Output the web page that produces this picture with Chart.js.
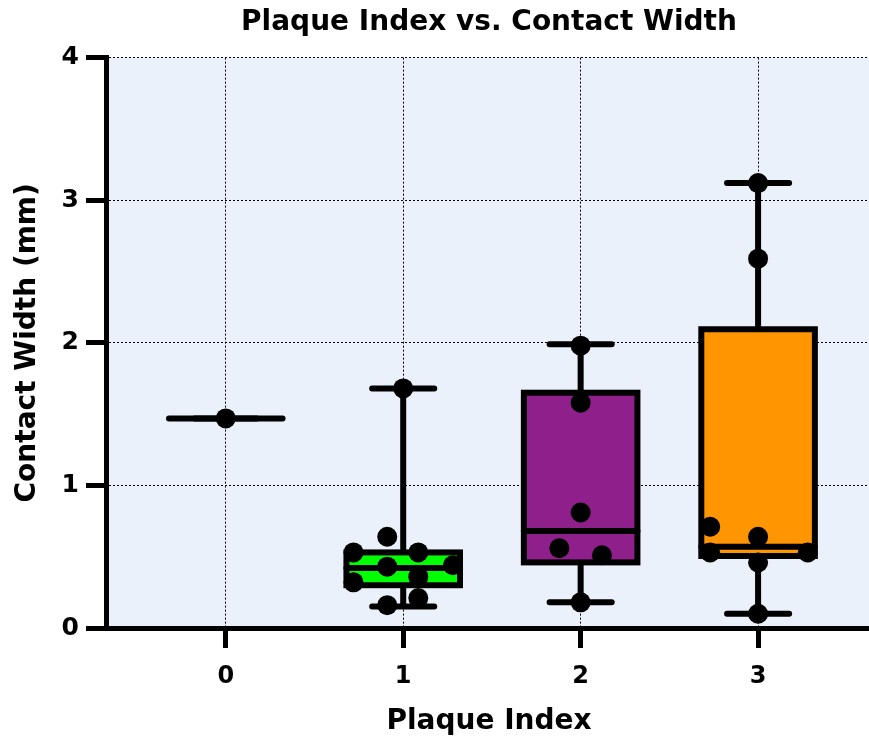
<!DOCTYPE html>
<html>
<head>
<meta charset="utf-8">
<title>Plaque Index vs. Contact Width</title>
<script src="https://cdn.jsdelivr.net/npm/chart.js@4.4.1/dist/chart.umd.min.js"></script>
<style>
  html, body { margin: 0; padding: 0; background: #fff; overflow: hidden; }
  #wrap { width: 882px; height: 746px; }
</style>
</head>
<body>
<div id="wrap"><canvas id="plaqueChart" width="882" height="746"></canvas></div>
<script>
// Plaque index groups on the x axis
const plaqueLevels = [0, 1, 2, 3];
const yTicks = [0, 1, 2, 3, 4];

// box statistics per group (mm)
const boxMin    = [1.47, 0.15, 0.18, 0.10];
const boxQ1     = [1.47, 0.30, 0.46, 0.505];
const boxMedian = [1.47, 0.42, 0.68, 0.57];
const boxQ3     = [1.47, 0.53, 1.65, 2.095];
const boxMax    = [1.47, 1.68, 1.99, 3.12];
const boxColors = ['#000000', '#00FF00', '#8F1F8B', '#FF9500'];

// individual measurements (x = plaque index with jitter, y = width in mm)
const g0X = [0];
const g0Y = [1.47];
const g1X = [1, 0.91, 0.72, 1.085, 0.91, 1.28, 1.085, 0.72, 0.91, 1.085];
const g1Y = [1.68, 0.64, 0.53, 0.53, 0.43, 0.44, 0.36, 0.32, 0.16, 0.21];
const g2X = [2, 2, 2, 1.88, 2.12, 2];
const g2Y = [1.98, 1.58, 0.81, 0.56, 0.51, 0.18];
const g3X = [3, 3, 2.73, 3, 2.73, 3.28, 3, 3];
const g3Y = [3.12, 2.59, 0.71, 0.64, 0.53, 0.53, 0.46, 0.10];

const FONT = "'DejaVu Sans', 'Liberation Sans', Arial, sans-serif";
Chart.defaults.font.family = FONT;
Chart.defaults.color = '#000';

const toPoints = (xs, ys) => xs.map((x, i) => ({ x: x, y: ys[i] }));

// plot background
const plotBg = {
  id: 'plotBg',
  beforeDraw(chart) {
    const { ctx, chartArea: a } = chart;
    ctx.save();
    ctx.fillStyle = '#EAF1FA';
    ctx.fillRect(a.left, a.top, a.right - a.left, a.bottom - a.top);
    ctx.restore();
  }
};

// box + whiskers, drawn under the points
const boxPlot = {
  id: 'boxPlot',
  beforeDatasetsDraw(chart) {
    const { ctx, scales: { x, y } } = chart;
    const boxHalf = 0.32, capHalf = 0.175;
    ctx.save();
    ctx.strokeStyle = '#000';
    ctx.lineWidth = 6;
    plaqueLevels.forEach((lvl, i) => {
      const cx = x.getPixelForValue(lvl);
      const bl = x.getPixelForValue(lvl - boxHalf);
      const br = x.getPixelForValue(lvl + boxHalf);
      const cl = x.getPixelForValue(lvl - capHalf);
      const cr = x.getPixelForValue(lvl + capHalf);
      const yMin = y.getPixelForValue(boxMin[i]);
      const yMax = y.getPixelForValue(boxMax[i]);
      const yQ1 = y.getPixelForValue(boxQ1[i]);
      const yQ3 = y.getPixelForValue(boxQ3[i]);
      const yMed = y.getPixelForValue(boxMedian[i]);

      // whisker + caps
      ctx.lineCap = 'round';
      ctx.beginPath();
      ctx.moveTo(cx, yMin); ctx.lineTo(cx, yMax);
      ctx.moveTo(cl, yMin); ctx.lineTo(cr, yMin);
      ctx.moveTo(cl, yMax); ctx.lineTo(cr, yMax);
      ctx.stroke();

      // box
      ctx.lineCap = 'butt';
      ctx.lineJoin = 'miter';
      if (yQ1 - yQ3 > 0.5) {
        ctx.fillStyle = boxColors[i];
        ctx.fillRect(bl, yQ3, br - bl, yQ1 - yQ3);
        ctx.strokeRect(bl, yQ3, br - bl, yQ1 - yQ3);
      }
      // median
      ctx.lineCap = 'round';
      ctx.beginPath();
      ctx.moveTo(bl, yMed); ctx.lineTo(br, yMed);
      ctx.stroke();
    });
    ctx.restore();
  }
};

const pointStyle = {
  type: 'scatter',
  showLine: false,
  pointRadius: 10,
  pointHoverRadius: 10,
  pointBackgroundColor: '#000',
  pointBorderWidth: 0
};

new Chart(document.getElementById('plaqueChart'), {
  type: 'scatter',
  data: {
    datasets: [
      Object.assign({ label: '0', data: toPoints(g0X, g0Y) }, pointStyle),
      Object.assign({ label: '1', data: toPoints(g1X, g1Y) }, pointStyle),
      Object.assign({ label: '2', data: toPoints(g2X, g2Y) }, pointStyle),
      Object.assign({ label: '3', data: toPoints(g3X, g3Y) }, pointStyle)
    ]
  },
  options: {
    responsive: false,
    animation: false,
    layout: { padding: { left: 0, right: 2, top: 0, bottom: 0 } },
    plugins: {
      legend: { display: false },
      tooltip: { enabled: false },
      title: {
        display: true,
        text: 'Plaque Index vs. Contact Width',
        fullSize: false,
        color: '#000',
        font: { size: 28, weight: 'bold' },
        padding: { top: 6, bottom: 18 }
      }
    },
    scales: {
      x: {
        type: 'linear',
        min: -0.675,
        max: 3.642,
        afterBuildTicks: axis => { axis.ticks = plaqueLevels.map(v => ({ value: v })); },
        afterFit: s => { s.height = 118; },
        ticks: {
          color: '#000',
          font: { size: 24, weight: 'bold' },
          padding: 14
        },
        grid: {
          color: '#000',
          lineWidth: 1,
          tickLength: 20,
          tickWidth: 5,
          tickColor: '#000',
          tickBorderDash: []
        },
        border: { display: true, color: '#000', width: 5, dash: [2, 2] },
        title: {
          display: true,
          text: 'Plaque Index',
          color: '#000',
          font: { size: 28, weight: 'bold' },
          padding: { top: 0, bottom: 7 }
        }
      },
      y: {
        min: 0,
        max: 4,
        afterBuildTicks: axis => { axis.ticks = yTicks.map(v => ({ value: v })); },
        afterFit: s => { s.width = 106; },
        ticks: {
          color: '#000',
          font: { size: 25, weight: 'bold' },
          padding: 7
        },
        grid: {
          color: '#000',
          lineWidth: 1,
          tickLength: 20,
          tickWidth: 5,
          tickColor: '#000',
          tickBorderDash: []
        },
        border: { display: true, color: '#000', width: 5, dash: [2, 2] },
        title: {
          display: true,
          text: 'Contact Width (mm)',
          color: '#000',
          font: { size: 28, weight: 'bold' },
          padding: { top: 11, bottom: 0 }
        }
      }
    }
  },
  plugins: [plotBg, boxPlot]
});
</script>
</body>
</html>
